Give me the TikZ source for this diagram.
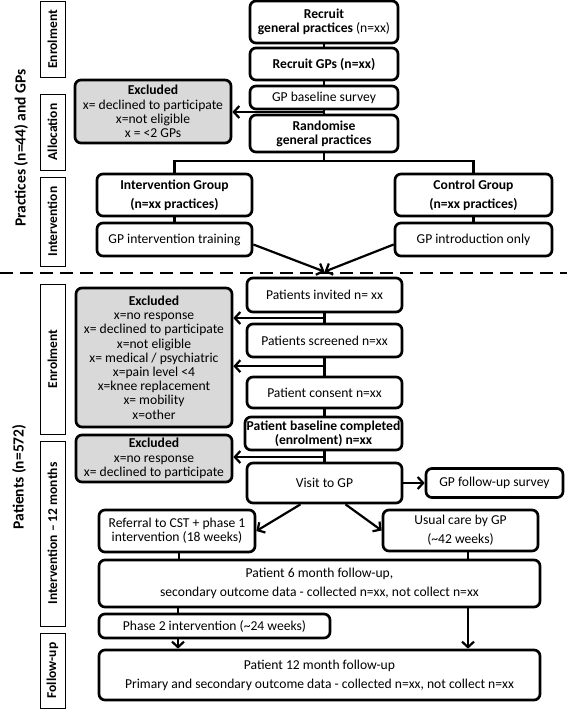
\documentclass[tikz,border=0pt]{standalone}
\usepackage{fontspec}
\setmainfont{Carlito}
\usetikzlibrary{arrows.meta,calc}
\definecolor{exgray}{RGB}{217,217,217}
\begin{document}
\begin{tikzpicture}[x=1pt,y=-1pt,
  box/.style={draw,fill=white,line width=2.7pt,rounded corners=6pt,align=center,inner sep=1pt,
    font=\fontsize{13.6}{14.2}\selectfont},
  excl/.style={box,fill=exgray},
  side/.style={draw,line width=1pt,rotate=90,inner sep=0pt,minimum height=25,
    font=\bfseries\fontsize{13.5}{14}\selectfont},
  big/.style={rotate=90,font=\bfseries\fontsize{15.5}{17}\selectfont},
  conn/.style={line width=2.2pt},
  arr/.style={conn,-{Straight Barb[length=5.5pt,width=12pt]}}]
\useasboundingbox (0,0) rectangle (567,709);
% side labels
\node[big] (lp) at (21,148) {Practices (n=44) and GPs};
\node[big] (lq) at (19,477) {Patients (n=572)};
\node[side,minimum width=75] (s1) at (52.5,39.5) {Enrolment};
\node[side,minimum width=76] (s2) at (52.5,132) {Allocation};
\node[side,minimum width=89] (s3) at (52.5,221.5) {Intervention};
\node[side,minimum width=150] (s4) at (52.5,359) {Enrolment};
\node[side,minimum width=185] (s5) at (52.5,533.5) {Intervention -- 12 months};
\node[side,minimum width=75] (s6) at (52.5,670.5) {Follow-up};
% dashed separator
\coordinate (dl) at (0,273);
\coordinate (dr) at (567,273);
\draw[line width=2.6pt,dash pattern=on 13pt off 7pt] (dl) -- (dr);
% practices
\node[box,minimum width=148,minimum height=42] (rp) at (324,22) {\textbf{Recruit}\\\textbf{general practices} (n=xx)};
\node[box,minimum width=148,minimum height=32] (rg) at (324,64) {\textbf{Recruit GPs (n=xx)}};
\node[box,minimum width=148,minimum height=23] (bs) at (324,97.5) {GP baseline survey};
\node[box,minimum width=148,minimum height=37] (rd) at (324,133.5) {\textbf{Randomise}\\\textbf{general practices}};
\node[excl,minimum width=156,minimum height=63] (ex1) at (153,111.5) {\textbf{Excluded}\\x= declined to participate\\x=not eligible\\x = <2 GPs};
\node[box,minimum width=155,minimum height=42] (ig) at (174.5,195) {\textbf{Intervention Group}\\[5pt]\textbf{(n=xx practices)}};
\node[box,minimum width=157,minimum height=42] (cg) at (473.5,195) {\textbf{Control Group}\\[5pt]\textbf{(n=xx practices)}};
\node[box,minimum width=155,minimum height=33] (it) at (174.5,239.5) {GP intervention training};
\node[box,minimum width=157,minimum height=33] (io) at (473.5,239.5) {GP introduction only};
% patients
\node[box,minimum width=155,minimum height=34] (pi) at (324.5,295) {Patients invited n= xx};
\node[box,minimum width=155,minimum height=33] (ps) at (324.5,340.5) {Patients screened n=xx};
\node[box,minimum width=155,minimum height=31] (pc) at (324.5,392.5) {Patient consent n=xx};
\node[box,minimum width=157,minimum height=33] (pb) at (323.5,433.5) {\textbf{Patient baseline completed}\\\textbf{(enrolment) n=xx}};
\node[excl,minimum width=156,minimum height=139] (ex2) at (154,357.5) {\textbf{Excluded}\\x=no response\\x= declined to participate\\x=not eligible\\x= medical / psychiatric\\x=pain level <4\\x=knee replacement\\x= mobility\\x=other};
\node[excl,minimum width=156,minimum height=47] (ex3) at (154,458.5) {\textbf{Excluded}\\x=no response\\x= declined to participate};
\node[box,minimum width=155,minimum height=40] (vg) at (324.5,483) {Visit to GP};
\node[box,minimum width=137,minimum height=29] (fs) at (494.5,483) {GP follow-up survey};
\node[box,minimum width=156,minimum height=42] (rf) at (177,531) {Referral to CST + phase 1\\intervention (18 weeks)};
\node[box,minimum width=155,minimum height=41] (uc) at (460.5,530.5) {Usual care by GP\\[5pt](\textasciitilde42 weeks)};
\node[box,minimum width=441,minimum height=47] (m6) at (319.5,583.5) {Patient 6 month follow-up,\\[5pt]secondary outcome data - collected n=xx, not collect n=xx};
\node[box,minimum width=231,minimum height=24] (p2) at (214.5,626) {Phase 2 intervention (\textasciitilde24 weeks)};
\node[box,minimum width=441,minimum height=50] (m12) at (319.5,675) {Patient 12 month follow-up\\[5pt]Primary and secondary outcome data - collected n=xx, not collect n=xx};
% connectors practices
\draw[conn] (rp) -- (rg);
\draw[conn] (rg) -- (bs);
\draw[conn] (bs) -- (rd);
\coordinate (j1) at ($(bs.south)!0.5!(rd.north)$);
\draw[arr] (j1) -- (j1 -| ex1.east);
\draw[conn] (rd.south) -- ++(0,7.5) -| (ig.north);
\draw[conn] (rd.south) -- ++(0,7.5) -| (cg.north);
\draw[conn] (ig) -- (it);
\draw[conn] (cg) -- (io);
\coordinate (jn) at ([yshift=5pt]pi.north);
\draw[arr] ([yshift=-5pt]it.east) -- (jn);
\draw[arr] ([yshift=-5pt]io.west) -- (jn);
% connectors patients
\draw[conn] (pi.south) -- (pi.south |- ps.north);
\draw[conn] (ps.south) -- (ps.south |- pc.north);
\draw[conn] (pc.south) -- (pc.south |- pb.north);
\draw[conn] (pi.south |- pb.south) -- (pi.south |- vg.north);
\coordinate (j2) at ($(pi.south)!0.5!(ps.north)$);
\coordinate (j3) at ($(ps.south)!0.45!(pc.north)$);
\coordinate (j4) at ($(pb.south)!0.55!(vg.north)$);
\draw[arr] (j2) -- (j2 -| ex2.east);
\draw[arr] (j3) -- (j3 -| ex2.east);
\draw[arr] (j4) -- (j4 -| ex3.east);
\draw[arr] (vg.east) -- (fs.west);
\draw[arr] ([xshift=-24pt]vg.south) -- (rf.east);
\draw[arr] ([xshift=21pt]vg.south) -- (uc.west);
\draw[conn] ([xshift=2pt]rf.south) -- ([xshift=2pt]rf.south |- m6.north);
\coordinate (ucx) at ([xshift=7.5pt]uc.south);
\draw[conn] (ucx) -- (ucx |- m6.north);
\draw[arr] (ucx |- m6.south) -- (ucx |- m12.north);
\coordinate (p2x) at (178,0);
\draw[conn] (p2x |- m6.south) -- (p2x |- p2.north);
\draw[arr] (p2x |- p2.south) -- (p2x |- m12.north);
\end{tikzpicture}
\end{document}
